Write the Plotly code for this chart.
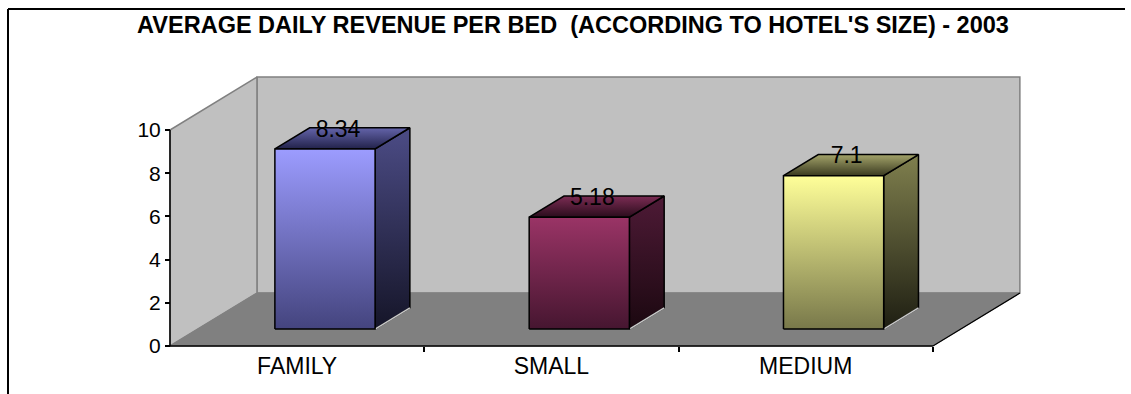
import plotly.graph_objects as go

# ---- data ----
title_text = "AVERAGE DAILY REVENUE PER BED \u00a0(ACCORDING TO HOTEL'S SIZE) - 2003"
categories = ["FAMILY", "SMALL", "MEDIUM"]
revenue = [8.34, 5.18, 7.1]
y_ticks = [0, 2, 4, 6, 8, 10]

# ---- styling ----
# per bar: front face (top, bottom), side face (top, bottom), top face (back, front)
front_cols = [("#9C9CFF", "#44447E"), ("#9A3466", "#461630"), ("#FFFF99", "#78784A")]
side_cols = [("#4C4C86", "#151528"), ("#4E1A36", "#1B0810"), ("#80804E", "#1E1E12")]
top_cols = [("#6464AA", "#22224A"), ("#7C2C54", "#2A0C1C"), ("#A4A46A", "#3A3A20")]

W, H = 1131, 394
X0_PX, X_UNIT_PX = 170.0, 254.3      # where category 0 starts, pixels per category
Y0_PX, Y_UNIT_PX = 346.0, 21.6       # zero line, pixels per value unit
DX, DY = 0.342, 2.45                 # floor depth vector in data units
D_FRONT, D_BACK = 0.32, 0.72         # bar depth placement (fraction of floor depth)
HALF_W = 0.197                       # half bar width in category units
Y_MAX = 10
FONT = "Arial, Liberation Sans, sans-serif"

x_range = [-X0_PX / X_UNIT_PX, (W - X0_PX) / X_UNIT_PX]
y_range = [-(H - Y0_PX) / Y_UNIT_PX, Y0_PX / Y_UNIT_PX]
n = len(categories)

fig = go.Figure()


def polygon(xs, ys, color=None, gradient=None, line_color="black", line_width=1.0):
    kw = dict(
        x=list(xs) + [xs[0]], y=list(ys) + [ys[0]], mode="lines", fill="toself",
        line=dict(color=line_color, width=line_width), hoverinfo="skip", showlegend=False,
    )
    if gradient is not None:
        kw["fillgradient"] = dict(type="vertical", colorscale=[[0, gradient[1]], [1, gradient[0]]])
    else:
        kw["fillcolor"] = color
    fig.add_trace(go.Scatter(**kw))


def segment(xs, ys, color="black", width=1.0):
    fig.add_trace(go.Scatter(x=xs, y=ys, mode="lines", line=dict(color=color, width=width),
                             hoverinfo="skip", showlegend=False))


# back wall
polygon([DX, n + DX, n + DX, DX], [DY, DY, Y_MAX + DY, Y_MAX + DY],
        color="#C0C0C0", line_color="#808080", line_width=1.5)
# side wall
polygon([0, 0, DX, DX], [0, Y_MAX, Y_MAX + DY, DY],
        color="#C0C0C0", line_color="#808080", line_width=1.5)
# floor
polygon([0, n, n + DX, DX], [0, 0, DY, DY], color="#808080", line_color="#808080", line_width=1)
segment([n, n + DX], [0, DY], color="black", width=1.2)

# axis lines
segment([0, 0], [0, Y_MAX], color="black", width=1.5)
segment([0, n], [0, 0], color="black", width=1.5)

# 3-D bars
for i, (cat, v) in enumerate(zip(categories, revenue)):
    c = i + 0.5
    xl, xr = c - HALF_W, c + HALF_W
    fx, fy = D_FRONT * DX, D_FRONT * DY
    bx, by = D_BACK * DX, D_BACK * DY
    # side face
    polygon([xr + fx, xr + bx, xr + bx, xr + fx], [fy, by, by + v, fy + v],
            gradient=side_cols[i], line_width=1.5)
    segment([xr + fx, xr + bx], [fy, by], color="#C8C8C8", width=1.5)
    # top face
    polygon([xl + fx, xr + fx, xr + bx, xl + bx], [fy + v, fy + v, by + v, by + v],
            gradient=top_cols[i], line_width=1.5)
    # front face
    polygon([xl + fx, xr + fx, xr + fx, xl + fx], [fy, fy, fy + v, fy + v],
            gradient=front_cols[i], line_width=1.5)

# value labels on top of the bars
fig.add_trace(go.Scatter(
    x=[i + 0.5 + 0.47 * DX for i in range(n)],
    y=[v + 0.66 * DY for v in revenue],
    mode="text", text=[str(v) for v in revenue], textposition="middle center",
    textfont=dict(family=FONT, size=23, color="black"),
    hoverinfo="skip", showlegend=False, cliponaxis=False,
))

fig.update_layout(
    width=W, height=H, autosize=False,
    margin=dict(l=0, r=0, t=0, b=0),
    paper_bgcolor="white", plot_bgcolor="white",
    showlegend=False,
    title=dict(text="<b>" + title_text + "</b>", x=573 / W, xanchor="center",
               y=1 - 25 / H, yanchor="middle",
               font=dict(family=FONT, size=23.5, color="black")),
    xaxis=dict(range=x_range, domain=[0, 1], anchor="free", position=(H - Y0_PX) / H,
               tickvals=[i + 0.5 for i in range(n)], ticktext=categories, ticks="",
               ticklabelstandoff=4,
               showgrid=False, zeroline=False, showline=False,
               tickfont=dict(family=FONT, size=23, color="black"), fixedrange=True),
    xaxis2=dict(range=x_range, domain=[0, 1], overlaying="x", anchor="free",
                position=(H - Y0_PX) / H, side="bottom",
                tickvals=list(range(1, n + 1)), ticks="outside", ticklen=5, tickwidth=1.5,
                tickcolor="black", showticklabels=False, showgrid=False, zeroline=False,
                showline=False, fixedrange=True),
    yaxis=dict(range=y_range, domain=[0, 1], anchor="free", position=X0_PX / W,
               tickvals=y_ticks, ticks="outside", ticklen=5, tickwidth=1.5, tickcolor="black",
               showgrid=False, zeroline=False, showline=False,
               tickfont=dict(family=FONT, size=21, color="black"), fixedrange=True),
    shapes=[
        dict(type="line", xref="paper", yref="paper", x0=8 / W, x1=1125 / W,
             y0=1 - 9 / H, y1=1 - 9 / H, line=dict(color="black", width=2)),
        dict(type="line", xref="paper", yref="paper", x0=8 / W, x1=8 / W,
             y0=1 - 9 / H, y1=0, line=dict(color="black", width=2)),
    ],
)

# empty trace so the tick-only axis is rendered
fig.add_trace(go.Scatter(x=[None], y=[None], xaxis="x2", showlegend=False, hoverinfo="skip"))

fig.write_html("out.html")
